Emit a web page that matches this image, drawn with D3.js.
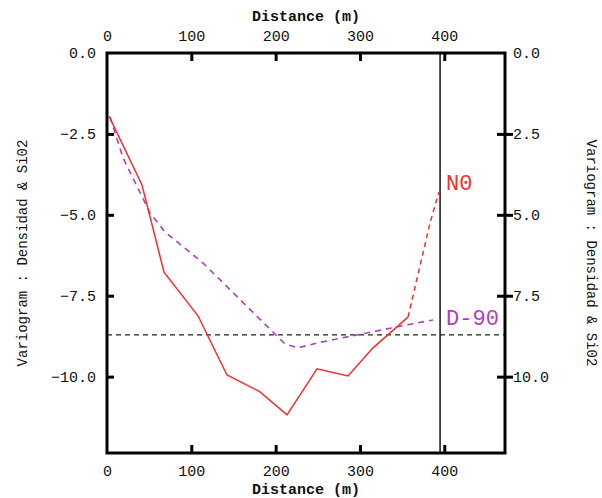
<!DOCTYPE html>
<html>
<head>
<meta charset="utf-8">
<script src="https://cdn.jsdelivr.net/npm/d3@7"></script>
<style>
  html, body { margin: 0; padding: 0; background: #fff; }
  svg { display: block; }
  text { font-family: "Liberation Mono", "DejaVu Sans Mono", monospace; }
</style>
</head>
<body>
<svg id="chart" width="602" height="498"></svg>
<script>
// Experimental variogram, two directions (lag distance in m, value)
const lagN0 = [2.4, 41.5, 67.6, 107.9, 142.3, 181.5, 213.5, 249.1, 285.8, 315.5, 357.0, 383.1, 393.7];
const valN0 = [-1.95, -4.08, -6.77, -8.12, -9.95, -10.47, -11.18, -9.76, -9.98, -9.11, -8.16, -5.25, -4.29];
// last two lags of N0 are drawn dashed
const solidCountN0 = 11;

const lagD90 = [3.6, 19.0, 51.0, 68.8, 113.9, 211.1, 226.5, 249.1, 308.3, 355.8, 386.6];
const valD90 = [-1.98, -3.24, -4.94, -5.53, -6.49, -8.99, -9.11, -8.96, -8.65, -8.40, -8.25];

const seriesNames = ["N0", "D-90"];

// Reference levels
const sillValue = -8.71;
const maxLag = 395;

// Axis ticks
const xTicks = [0, 100, 200, 300, 400];
const yTicks = [0, -2.5, -5, -7.5, -10];
const xDomain = [0, 472];
const yDomain = [0, -12.36];

const xTitle = "Distance (m)";
const yTitle = "Variogram : Densidad & Si02";

const W = 602, H = 498;
const M = { left: 107, right: 97, top: 53, bottom: 45 };
const x = d3.scaleLinear().domain(xDomain).range([M.left, W - M.right]);
const y = d3.scaleLinear().domain(yDomain).range([M.top, H - M.bottom]);

const svg = d3.select("#chart");
const fmt = d3.format(".1f");
const TICK_FONT = 15;

// Directional series
const red = "#ff2b2b", purple = "#b23cc4";
const line = d3.line().x(d => x(d[0])).y(d => y(d[1]));
const n0 = lagN0.map((l, i) => [l, valN0[i]]);
const d90 = lagD90.map((l, i) => [l, valD90[i]]);

// Sill (dashed horizontal)
svg.append("line")
  .attr("x1", x(xDomain[0])).attr("x2", x(xDomain[1]))
  .attr("y1", y(sillValue)).attr("y2", y(sillValue))
  .attr("stroke", "#222").attr("stroke-width", 1.4).attr("stroke-dasharray", "5,4");

// Maximum lag (vertical)
svg.append("line")
  .attr("x1", x(maxLag)).attr("x2", x(maxLag))
  .attr("y1", y(yDomain[0])).attr("y2", y(yDomain[1]))
  .attr("stroke", "#111").attr("stroke-width", 1.5);

svg.append("path").datum(d90)
  .attr("d", line).attr("fill", "none")
  .attr("stroke", purple).attr("stroke-width", 1.6).attr("stroke-dasharray", "6,5");

svg.append("path").datum(n0.slice(0, solidCountN0))
  .attr("d", line).attr("fill", "none")
  .attr("stroke", red).attr("stroke-width", 1.5);
svg.append("path").datum(n0.slice(solidCountN0 - 1))
  .attr("d", line).attr("fill", "none")
  .attr("stroke", red).attr("stroke-width", 1.5).attr("stroke-dasharray", "5,4");

// Series labels beside the maximum-lag line
const labelStyle = [
  { color: red, dy: -2, last: valN0[valN0.length - 1] },
  { color: purple, dy: 5, last: valD90[valD90.length - 1] }
];
seriesNames.forEach((name, i) => {
  svg.append("text")
    .attr("x", x(maxLag) + 6)
    .attr("y", y(labelStyle[i].last) + labelStyle[i].dy)
    .attr("fill", labelStyle[i].color)
    .attr("font-size", 22)
    .text(name);
});

// Frame
svg.append("rect")
  .attr("x", M.left).attr("y", M.top)
  .attr("width", W - M.left - M.right).attr("height", H - M.top - M.bottom)
  .attr("fill", "none").attr("stroke", "#000").attr("stroke-width", 3);

// Bottom and top axes (ticks pointing inward)
const xBottom = d3.axisBottom(x).tickValues(xTicks).tickSizeInner(-8).tickSizeOuter(0).tickPadding(12).tickFormat(d3.format("d"));
const xTop = d3.axisTop(x).tickValues(xTicks).tickSizeInner(-8).tickSizeOuter(0).tickPadding(12).tickFormat(d3.format("d"));
// Left axis inward ticks, right axis ticks cross the frame
const yLeft = d3.axisLeft(y).tickValues(yTicks).tickSizeInner(-7).tickSizeOuter(0).tickPadding(12).tickFormat(fmt);
const yRight = d3.axisRight(y).tickValues(yTicks).tickSizeInner(8).tickSizeOuter(0).tickPadding(1).tickFormat(d => fmt(-d));

function styleAxis(g) {
  g.select(".domain").remove();
  g.selectAll(".tick line").attr("stroke", "#000").attr("stroke-width", 3);
  g.selectAll(".tick text")
    .attr("font-family", "Liberation Mono, monospace")
    .attr("font-size", TICK_FONT).attr("fill", "#111");
}

svg.append("g").attr("transform", `translate(0,${H - M.bottom})`).call(xBottom).call(styleAxis);
svg.append("g").attr("transform", `translate(0,${M.top})`).call(xTop).call(styleAxis);
svg.append("g").attr("transform", `translate(${M.left},0)`).call(yLeft).call(styleAxis)
  .selectAll(".tick text").attr("x", -11);
const gr = svg.append("g").attr("transform", `translate(${W - M.right},0)`).call(yRight).call(styleAxis);
gr.selectAll(".tick line").attr("x1", -8).attr("x2", 8);
gr.selectAll(".tick text").attr("x", 8);
// no tick marks at the frame corners
svg.selectAll(".tick").filter(d => d === 0).select("line").remove();

// Axis titles
const cx = (M.left + W - M.right) / 2;
const cy = (M.top + H - M.bottom) / 2;
svg.append("text").attr("x", cx).attr("y", 21).attr("text-anchor", "middle")
  .attr("font-size", 15).attr("font-weight", "bold").attr("fill", "#111").text(xTitle);
svg.append("text").attr("x", cx).attr("y", 494).attr("text-anchor", "middle")
  .attr("font-size", 15).attr("font-weight", "bold").attr("fill", "#111").text(xTitle);
svg.append("text").attr("transform", `translate(27,${cy}) rotate(-90)`).attr("text-anchor", "middle")
  .attr("font-size", 14).attr("fill", "#111").text(yTitle);
svg.append("text").attr("transform", `translate(587,${cy}) rotate(90)`).attr("text-anchor", "middle")
  .attr("font-size", 14).attr("fill", "#111").text(yTitle);
</script>
</body>
</html>
